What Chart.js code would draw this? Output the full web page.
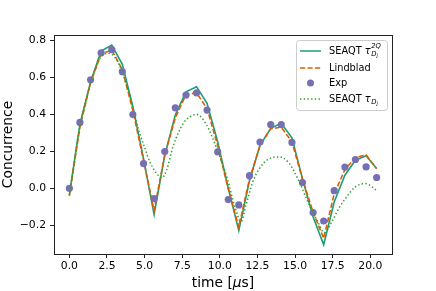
<!DOCTYPE html>
<html>
<head>
<meta charset="utf-8">
<script src="https://cdn.jsdelivr.net/npm/chart.js@4.4.1/dist/chart.umd.min.js"></script>
<style>
  body { margin: 0; background: #fff; }
  #wrap { width: 436px; height: 291px; }
</style>
</head>
<body>
<div id="wrap"><canvas id="concChart"></canvas></div>
<script>
// time grid of the simulations and the measurement (µs)
var timeUs = [0, 0.70, 1.41, 2.11, 2.82, 3.52, 4.22, 4.93, 5.63, 6.34, 7.04, 7.75, 8.45, 9.15, 9.86,
  10.56, 11.26, 11.97, 12.67, 13.38, 14.08, 14.79, 15.49, 16.2, 16.9, 17.6, 18.31, 19.01, 19.72, 20.42];

var seaqt2Q = [-0.035, 0.344, 0.575, 0.74, 0.773, 0.669, 0.44, 0.16, -0.142, 0.178, 0.395, 0.52, 0.548, 0.458, 0.25,
  0.0, -0.228, 0.04, 0.232, 0.323, 0.35, 0.272, 0.052, -0.155, -0.305, -0.074, 0.07, 0.151, 0.175, 0.107];

var lindblad = [-0.04, 0.33, 0.57, 0.725, 0.745, 0.64, 0.42, 0.15, -0.12, 0.18, 0.38, 0.505, 0.515, 0.43, 0.23,
  -0.005, -0.21, 0.05, 0.23, 0.32, 0.33, 0.25, 0.05, -0.13, -0.27, -0.03, 0.10, 0.165, 0.18, 0.105];

var expData = [0.0, 0.355, 0.585, 0.731, 0.748, 0.629, 0.398, 0.133, -0.056, 0.198, 0.434, 0.503, 0.515, 0.422, 0.196,
  -0.061, -0.09, 0.068, 0.249, 0.344, 0.344, 0.247, 0.031, -0.131, -0.177, -0.013, 0.114, 0.155, 0.115, 0.058];

// SEAQT tau_Dj curve is smooth, read at its own points
var seaqtDjTime = [0, 0.70, 1.41, 2.11, 2.6, 3.0, 3.52, 4.0, 4.41, 4.66, 5.0, 5.36, 5.8, 6.14, 6.47, 6.91, 7.57, 8.0,
  8.46, 9.13, 9.79, 10.5, 11.0, 11.41, 11.74, 12.19, 12.63, 13.29, 13.95, 14.62, 15.28, 15.95, 16.5, 16.95,
  17.45, 17.9, 18.34, 19.0, 19.67, 20.42];
var seaqtDj = [-0.04, 0.33, 0.565, 0.71, 0.728, 0.71, 0.625, 0.5, 0.37, 0.30, 0.22, 0.14, 0.08, 0.056, 0.10, 0.23, 0.35, 0.385,
  0.398, 0.34, 0.215, 0.05, -0.10, -0.18, -0.09, 0.034, 0.106, 0.16, 0.169, 0.133, 0.034, -0.092, -0.18, -0.24,
  -0.18, -0.11, -0.056, 0.007, 0.025, -0.011];

var xTicks = [0, 2.5, 5, 7.5, 10, 12.5, 15, 17.5, 20];
var yTicks = [-0.2, 0, 0.2, 0.4, 0.6, 0.8];

var cGreen = '#1b9e77';
var cOrange = '#d95f02';
var cPurple = '#7570b3';
var cDot = '#2ca02c';
var FONT = 'DejaVu Sans';

function pts(xs, ys) {
  return xs.map(function (x, i) { return { x: x, y: ys[i] }; });
}

function fmt(v) {
  var s = Math.abs(v).toFixed(1);
  return v < -1e-9 ? '\u2212' + s : s;
}

// writes "SEAQT τ" with sup/sub parts, returns nothing
function drawTau(ctx, x, y, withSup) {
  ctx.font = '9.8px "' + FONT + '"';
  ctx.fillText('SEAQT ', x, y);
  x += ctx.measureText('SEAQT ').width;
  ctx.font = 'italic 9.8px "' + FONT + '"';
  ctx.fillText('\u03c4', x, y);
  x += ctx.measureText('\u03c4').width + 0.5;
  if (withSup) {
    ctx.font = 'italic 6.8px "' + FONT + '"';
    ctx.fillText('2Q', x, y - 4.5);
  }
  ctx.font = 'italic 6.8px "' + FONT + '"';
  ctx.fillText('D', x, y + 3);
  var w = ctx.measureText('D').width;
  ctx.font = 'italic 5px "' + FONT + '"';
  ctx.fillText('j', x + w, y + 5);
}

var decorPlugin = {
  id: 'decor',
  afterDraw: function (chart) {
    var ctx = chart.ctx;
    var a = chart.chartArea;
    ctx.save();
    // frame
    ctx.strokeStyle = '#222';
    ctx.lineWidth = 1;
    ctx.strokeRect(Math.round(a.left) + 0.5, Math.round(a.top) + 0.5,
      Math.round(a.right - a.left), Math.round(a.bottom - a.top));

    // axis titles
    ctx.fillStyle = '#000';
    ctx.textBaseline = 'middle';
    ctx.textAlign = 'left';
    var cx = (a.left + a.right) / 2;
    ctx.font = '13.8px "' + FONT + '"';
    var p1 = 'time [', p3 = 's]';
    var w1 = ctx.measureText(p1).width, w3 = ctx.measureText(p3).width;
    ctx.font = 'italic 13.8px "' + FONT + '"';
    var w2 = ctx.measureText('\u03bc').width;
    var tx = cx - (w1 + w2 + w3) / 2;
    ctx.font = '13.8px "' + FONT + '"';
    ctx.fillText(p1, tx, 283);
    ctx.font = 'italic 13.8px "' + FONT + '"';
    ctx.fillText('\u03bc', tx + w1, 283);
    ctx.font = '13.8px "' + FONT + '"';
    ctx.fillText(p3, tx + w1 + w2, 283);

    ctx.save();
    ctx.translate(8, (a.top + a.bottom) / 2);
    ctx.rotate(-Math.PI / 2);
    ctx.textAlign = 'center';
    ctx.fillText('Concurrence', 0, 0);
    ctx.restore();

    // legend
    var bx = a.right - 96, by = a.top + 5, bw = 91, bh = 70;
    ctx.beginPath();
    ctx.roundRect(bx + 0.5, by + 0.5, bw, bh, 3);
    ctx.fillStyle = 'rgba(255,255,255,0.8)';
    ctx.fill();
    ctx.strokeStyle = '#cccccc';
    ctx.lineWidth = 1;
    ctx.stroke();

    var lx0 = bx + 4, lx1 = bx + 25, txx = bx + 33;
    var rows = [by + 11, by + 28, by + 43, by + 59];

    ctx.lineWidth = 1.5;
    ctx.strokeStyle = cGreen;
    ctx.setLineDash([]);
    ctx.beginPath(); ctx.moveTo(lx0, rows[0]); ctx.lineTo(lx1, rows[0]); ctx.stroke();

    ctx.strokeStyle = cOrange;
    ctx.setLineDash([5.2, 2.3]);
    ctx.beginPath(); ctx.moveTo(lx0, rows[1]); ctx.lineTo(lx1, rows[1]); ctx.stroke();

    ctx.setLineDash([]);
    ctx.fillStyle = cPurple;
    ctx.beginPath(); ctx.arc((lx0 + lx1) / 2, rows[2], 3.5, 0, Math.PI * 2); ctx.fill();

    ctx.strokeStyle = cDot;
    ctx.setLineDash([1.4, 2.3]);
    ctx.beginPath(); ctx.moveTo(lx0, rows[3]); ctx.lineTo(lx1, rows[3]); ctx.stroke();
    ctx.setLineDash([]);

    ctx.fillStyle = '#000';
    ctx.textAlign = 'left';
    drawTau(ctx, txx, rows[0], true);
    ctx.font = '9.8px "' + FONT + '"';
    ctx.fillText('Lindblad', txx, rows[1]);
    ctx.fillText('Exp', txx, rows[2]);
    drawTau(ctx, txx, rows[3], false);
    ctx.restore();
  }
};

var ctx = document.getElementById('concChart').getContext('2d');
var chart = new Chart(ctx, {
  type: 'line',
  data: {
    datasets: [
      {
        label: 'SEAQT tau 2Q',
        data: pts(timeUs, seaqt2Q),
        borderColor: cGreen,
        borderWidth: 1.6,
        pointRadius: 0,
        tension: 0,
        order: 4,
      },
      {
        label: 'Lindblad',
        data: pts(timeUs, lindblad),
        borderColor: cOrange,
        borderWidth: 1.6,
        borderDash: [5.2, 2.3],
        pointRadius: 0,
        tension: 0,
        order: 3,
      },
      {
        label: 'Exp',
        data: pts(timeUs, expData),
        showLine: false,
        backgroundColor: cPurple,
        borderColor: cPurple,
        borderWidth: 0,
        pointRadius: 3.6,
        order: 2,
      },
      {
        label: 'SEAQT tau Dj',
        data: pts(seaqtDjTime, seaqtDj),
        borderColor: cDot,
        borderWidth: 1.5,
        borderDash: [1.4, 2.3],
        pointRadius: 0,
        cubicInterpolationMode: 'monotone',
        order: 1,
      },
    ],
  },
  options: {
    responsive: true,
    maintainAspectRatio: false, // fixed box
    devicePixelRatio: 1,
    animation: false,
    layout: { padding: { top: 35, right: 44, left: 0, bottom: 0 } },
    plugins: {
      legend: { display: false },
      tooltip: { enabled: false },
    },
    scales: {
      x: {
        type: 'linear',
        min: -1.021,
        max: 21.441,
        afterBuildTicks: function (s) { s.ticks = xTicks.map(function (v) { return { value: v }; }); },
        afterFit: function (s) { s.height = 37; },
        ticks: {
          color: '#000',
          font: { family: FONT, size: 10.8 },
          padding: 2,
          maxRotation: 0,
          autoSkip: false,
          callback: function (v) { return fmt(v); },
        },
        grid: { drawOnChartArea: false, drawTicks: true, tickLength: 4, color: '#222', lineWidth: 1 },
        border: { display: false },
      },
      y: {
        min: -0.355,
        max: 0.827,
        afterBuildTicks: function (s) { s.ticks = yTicks.map(function (v) { return { value: v }; }); },
        afterFit: function (s) { s.width = 54; },
        ticks: {
          color: '#000',
          font: { family: FONT, size: 10.8 },
          padding: 4,
          autoSkip: false,
          callback: function (v) { return fmt(v); },
        },
        grid: { drawOnChartArea: false, drawTicks: true, tickLength: 4, color: '#222', lineWidth: 1 },
        border: { display: false },
      },
    },
  },
  plugins: [decorPlugin],
});
</script>
</body>
</html>
